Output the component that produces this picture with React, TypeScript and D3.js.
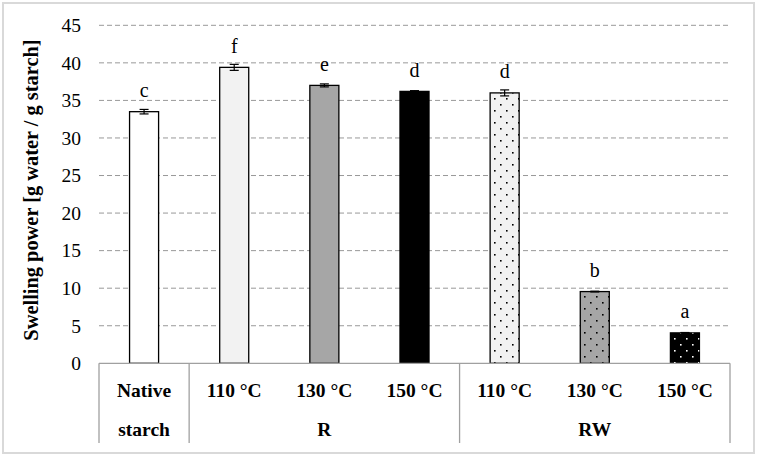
import React from "react";
import * as d3 from "d3";

const categories = ["Native starch", "110 °C", "130 °C", "150 °C", "110 °C", "130 °C", "150 °C"];
const values = [33.5, 39.4, 37.0, 36.2, 36.0, 9.55, 4.05];
const errors = [0.3, 0.4, 0.2, 0.1, 0.4, 0.05, 0.05];
const letters = ["c", "f", "e", "d", "d", "b", "a"];
const fills = ["#ffffff", "#f2f2f2", "#a6a6a6", "#000000", "#f2f2f2", "#a6a6a6", "#000000"];
const patterns = ["", "", "", "", "dotsDark", "dotsDark", "dotsLight"];
const groups = [
  { label: "", start: 0, end: 1 },
  { label: "R", start: 1, end: 4 },
  { label: "RW", start: 4, end: 7 },
];
const yTicks = [0, 5, 10, 15, 20, 25, 30, 35, 40, 45];

const W = 757;
const H = 458;
const left = 99;
const right = 730;
const top = 25.3;
const bottom = 363.3;
const tableBottom = 443;

export default function App() {
  const x = d3
    .scaleBand<number>()
    .domain(d3.range(categories.length))
    .range([left, right])
    .paddingInner(0.678)
    .paddingOuter(0.339);
  const step = x.step();
  const y = d3.scaleLinear().domain([0, 45]).range([bottom, top]);
  const font = "'Liberation Serif', 'Times New Roman', serif";
  const boundary = (i: number) => left + i * step;
  const labelSize = 19.5;

  return (
    <svg width={W} height={H} style={{ position: "absolute", left: 0, top: 0 }}>
      <defs>
        <pattern id="dotsDark" width={12} height={12} patternUnits="userSpaceOnUse">
          <rect x={2} y={2} width={1.6} height={1.6} fill="#000" />
          <rect x={8} y={8} width={1.6} height={1.6} fill="#000" />
        </pattern>
        <pattern id="dotsLight" width={12} height={12} patternUnits="userSpaceOnUse">
          <rect x={2} y={2} width={1.6} height={1.6} fill="#fff" />
          <rect x={8} y={8} width={1.6} height={1.6} fill="#fff" />
        </pattern>
      </defs>
      <rect x={0} y={0} width={W} height={H} fill="#fff" />
      <rect x={3} y={3} width={751} height={450} fill="none" stroke="#d9d9d9" strokeWidth={2} />

      {/* gridlines */}
      {yTicks.filter((t) => t > 0).map((t) => (
        <line
          key={t}
          x1={left}
          x2={right}
          y1={y(t)}
          y2={y(t)}
          stroke="#999"
          strokeWidth={1}
          strokeDasharray="5,3"
        />
      ))}

      {/* tick labels */}
      {yTicks.map((t) => (
        <text
          key={t}
          x={81}
          y={y(t)}
          dy="0.35em"
          textAnchor="end"
          fontFamily={font}
          fontSize={19.5}
          fill="#000"
        >
          {t}
        </text>
      ))}

      {/* y title */}
      <text
        transform={`translate(38, 190) rotate(-90)`}
        textAnchor="middle"
        fontFamily={font}
        fontWeight="bold"
        fontSize={20.4}
        fill="#000"
      >
        Swelling power [g water / g starch]
      </text>

      {/* bars */}
      {values.map((v, i) => {
        const bx = x(i)!;
        const bw = x.bandwidth();
        const by = y(v);
        const bh = bottom - by;
        return (
          <g key={i}>
            <rect x={bx} y={by} width={bw} height={bh} fill={fills[i]} stroke="#000" strokeWidth={1.3} />
            {patterns[i] && (
              <rect x={bx} y={by} width={bw} height={bh} fill={`url(#${patterns[i]})`} stroke="none" />
            )}
          </g>
        );
      })}

      {/* error bars */}
      {values.map((v, i) => {
        const cx = x(i)! + x.bandwidth() / 2;
        const y1 = y(v + errors[i]);
        const y2 = y(v - errors[i]);
        return (
          <g key={i} stroke="#000" strokeWidth={1.2}>
            <line x1={cx} x2={cx} y1={y1} y2={y2} />
            <line x1={cx - 4.5} x2={cx + 4.5} y1={y1} y2={y1} />
            <line x1={cx - 4.5} x2={cx + 4.5} y1={y2} y2={y2} />
          </g>
        );
      })}

      {/* letters */}
      {values.map((v, i) => (
        <text
          key={i}
          x={x(i)! + x.bandwidth() / 2}
          y={y(v) - 14.5}
          textAnchor="middle"
          fontFamily={font}
          fontSize={20}
          fill="#000"
        >
          {letters[i]}
        </text>
      ))}

      {/* axis table */}
      <line x1={left} x2={right} y1={bottom} y2={bottom} stroke="#a0a0a0" strokeWidth={1.3} />
      {[0, 1, 4, 7].map((b) => (
        <line
          key={b}
          x1={boundary(b)}
          x2={boundary(b)}
          y1={bottom}
          y2={tableBottom}
          stroke="#a0a0a0"
          strokeWidth={1.3}
        />
      ))}

      {/* category labels */}
      {categories.map((c, i) => {
        const cx = x(i)! + x.bandwidth() / 2;
        if (i === 0) {
          const parts = c.split(" ");
          return (
            <g key={i}>
              <text x={cx} y={397} textAnchor="middle" fontFamily={font} fontWeight="bold" fontSize={labelSize}>
                {parts[0]}
              </text>
              <text x={cx} y={436} textAnchor="middle" fontFamily={font} fontWeight="bold" fontSize={labelSize}>
                {parts[1]}
              </text>
            </g>
          );
        }
        return (
          <text key={i} x={cx} y={397} textAnchor="middle" fontFamily={font} fontWeight="bold" fontSize={labelSize}>
            {c}
          </text>
        );
      })}
      {groups.filter((g) => g.label).map((g) => (
        <text
          key={g.label}
          x={(boundary(g.start) + boundary(g.end)) / 2}
          y={436}
          textAnchor="middle"
          fontFamily={font}
          fontWeight="bold"
          fontSize={labelSize}
        >
          {g.label}
        </text>
      ))}
    </svg>
  );
}
